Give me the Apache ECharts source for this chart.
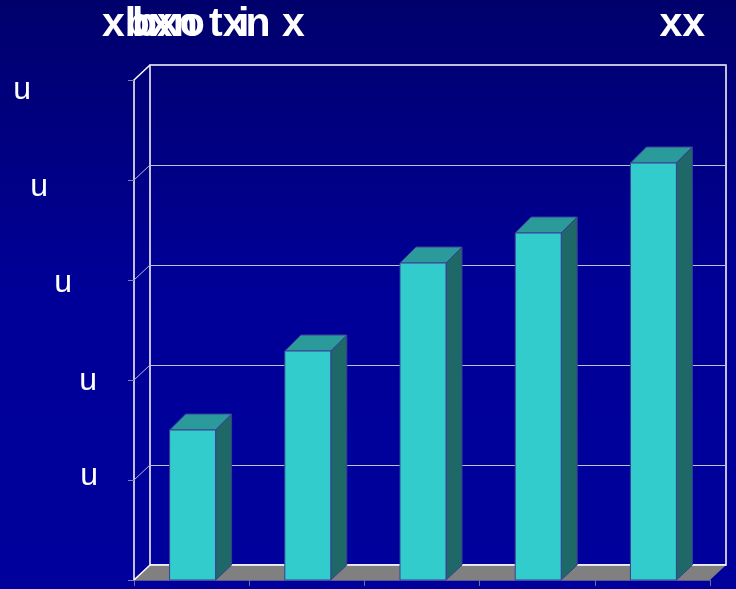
<!DOCTYPE html>
<html>
<head>
<meta charset="utf-8">
<script src="https://cdn.jsdelivr.net/npm/echarts@6/dist/echarts.min.js"></script>
<style>html,body{margin:0;padding:0;background:#000080;}#c{width:736px;height:589px;}</style>
</head>
<body>
<div id="c"></div>
<script>
// ---- data ----
const categories = ['1', '2', '3', '4', '5'];
const values = [1.5, 2.29, 3.17, 3.47, 4.17];
const yTicks = [0, 1, 2, 3, 4, 5];
const yTickLabels = ['', 'u', 'u', 'u', 'u', 'u'];
const titleMain = 'xbxn txn x';
const titleOverlay = 'bxo';
const titleOverlay2 = 'i';
const titleRight = 'xx';

// ---- style constants ----
const DX = 16, DY = -15;
const FONT = 'Liberation Sans, Arial, sans-serif';

const chart = echarts.init(document.getElementById('c'), null, {renderer: 'canvas'});

const labelRich = {
  l1: {padding: [0, 28, 8, 0]},
  l2: {padding: [2, 29, 0, 0]},
  l3: {padding: [6, 54, 0, 0]},
  l4: {padding: [14, 78, 0, 0]},
  l5: {padding: [20, 95, 0, 0]}
};
Object.keys(labelRich).forEach(k => {
  Object.assign(labelRich[k], {color: '#ffffff', fontSize: 32, fontFamily: FONT});
});

const titleStyle = {color: '#fff', fontSize: 41, fontWeight: 'bold', fontFamily: FONT};

const option = {
  animation: false,
  backgroundColor: {
    type: 'linear', x: 0, y: 0, x2: 0, y2: 1,
    colorStops: [
      {offset: 0, color: '#00006c'},
      {offset: 0.5, color: '#000098'},
      {offset: 1, color: '#00009c'}
    ]
  },
  title: [
    {text: titleMain, left: 97, top: -1, textStyle: titleStyle},
    {text: titleOverlay, left: 127, top: -1, textStyle: titleStyle},
    {text: titleOverlay2, left: 233, top: -1, textStyle: titleStyle},
    {text: titleRight, right: 26, top: -1, textStyle: titleStyle}
  ],
  grid: [
    {left: 134, top: 80, width: 576, height: 500, containLabel: false},
    {left: 150, top: 65, width: 576, height: 500, show: true, borderColor: '#ffffff', borderWidth: 1.5, backgroundColor: 'transparent'}
  ],
  xAxis: [
    {
      gridIndex: 0, type: 'category', data: categories,
      axisLine: {show: true, lineStyle: {color: '#5a5a96', width: 1}},
      axisTick: {show: true, length: 6, lineStyle: {color: '#7070a0'}},
      axisLabel: {show: false}
    },
    {gridIndex: 1, type: 'category', data: categories, show: false}
  ],
  yAxis: [
    {
      gridIndex: 0, type: 'value', min: 0, max: 5, interval: 1,
      axisLine: {show: true, lineStyle: {color: '#ffffff', width: 1.5}},
      axisTick: {show: true, length: 6, lineStyle: {color: '#8080b0'}},
      splitLine: {show: false},
      axisLabel: {
        margin: 8,
        formatter: (v) => {
          const i = yTicks.indexOf(v);
          const t = yTickLabels[i] || '';
          return t ? '{l' + v + '|' + t + '}' : '';
        },
        rich: labelRich
      }
    },
    {
      gridIndex: 1, type: 'value', min: 0, max: 5, interval: 1,
      axisLine: {show: false}, axisTick: {show: false}, axisLabel: {show: false},
      splitLine: {show: true, lineStyle: {color: '#c0c0dc', width: 1}}
    }
  ],
  series: [
    {
      // floor
      type: 'custom', xAxisIndex: 0, yAxisIndex: 0, z: 1, silent: true,
      data: [[0, 0]],
      renderItem: (params, api) => {
        const cs = params.coordSys;
        const p = api.coord([0, 0]);
        const yb = p[1];
        const x0 = cs.x, x1 = cs.x + cs.width;
        return {
          type: 'group',
          children: [
            {type: 'polygon', shape: {points: [[x0, yb], [x0 + DX, yb + DY], [x1 + DX, yb + DY], [x1, yb]]},
             style: {fill: '#808080', stroke: null}},
            {type: 'line', shape: {x1: x0 + DX, y1: yb + DY, x2: x1 + DX, y2: yb + DY},
             style: {stroke: '#ffffff', lineWidth: 1.5}}
          ]
        };
      }
    },
    {
      // left wall diagonals
      type: 'custom', xAxisIndex: 0, yAxisIndex: 0, z: 2, silent: true,
      data: yTicks.map(v => [0, v]),
      renderItem: (params, api) => {
        const cs = params.coordSys;
        const v = api.value(1);
        const y = api.coord([0, v])[1];
        const edge = (v === yTicks[0] || v === yTicks[yTicks.length - 1]);
        return {
          type: 'line',
          shape: {x1: cs.x, y1: y, x2: cs.x + DX, y2: y + DY},
          style: {stroke: edge ? '#ffffff' : '#b8b8d8', lineWidth: edge ? 1.5 : 1}
        };
      }
    },
    {
      // 3D bars
      type: 'custom', xAxisIndex: 0, yAxisIndex: 0, z: 3,
      data: values.map((v, i) => [i, v]),
      renderItem: (params, api) => {
        const base = api.coord([api.value(0), 0]);
        const top = api.coord([api.value(0), api.value(1)]);
        const L = base[0] - 22, R = base[0] + 24, B = base[1], T = top[1];
        const dy = -16;
        const edge = '#3c3c98';
        return {
          type: 'group',
          children: [
            {type: 'polygon', shape: {points: [[R, T], [R + DX, T + dy], [R + DX, B + DY], [R, B]]},
             style: {fill: '#1e6868', stroke: edge, lineWidth: 1}},
            {type: 'polygon', shape: {points: [[L, T], [L + DX, T + dy], [R + DX, T + dy], [R, T]]},
             style: {fill: '#2a9a9a', stroke: edge, lineWidth: 1}},
            {type: 'rect', shape: {x: L, y: T, width: R - L, height: B - T},
             style: {fill: '#33cccc', stroke: edge, lineWidth: 1}}
          ]
        };
      }
    }
  ]
};

chart.setOption(option);
</script>
</body>
</html>
